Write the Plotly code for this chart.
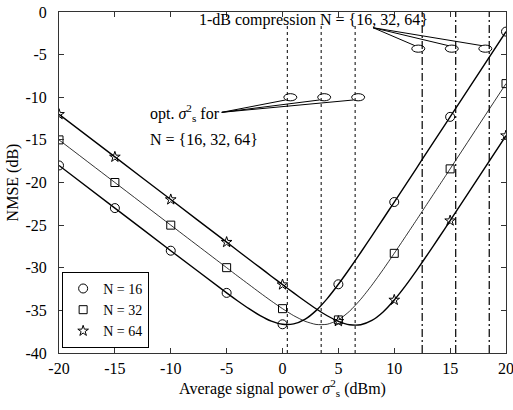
import plotly.graph_objects as go

# ---- data ----
x_markers = [-20, -15, -10, -5, 0, 5, 10, 15, 20]
nmse16_markers = [-18.0, -23.0, -28.0, -32.95, -36.63, -31.94, -22.29, -12.3, -2.3]
nmse32_markers = [-15.0, -20.0, -25.0, -29.99, -34.80, -36.12, -28.31, -18.4, -8.4]
nmse64_markers = [-12.0, -17.0, -22.0, -27.0, -31.98, -36.28, -33.78, -24.48, -14.5]

x_curve = [-20, -15, -10, -5, -4, -3, -2, -1, 0, 1, 2, 3, 4, 5, 6, 7, 8, 9, 10,
           11, 12, 13, 14, 15, 20]
nmse16_curve = [-18.0, -23.0, -28.0, -32.95, -33.90, -34.80, -35.61, -36.26, -36.63,
                -36.59, -36.06, -35.03, -33.62, -31.94, -30.12, -28.21, -26.25, -24.28,
                -22.29, -20.3, -18.3, -16.3, -14.3, -12.3, -2.3]
nmse32_curve = [-15.0, -20.0, -25.0, -29.99, -30.99, -31.97, -32.95, -33.90, -34.80,
                -35.62, -36.27, -36.65, -36.63, -36.12, -35.10, -33.70, -32.04, -30.22,
                -28.31, -26.35, -24.38, -22.39, -20.4, -18.4, -8.4]
nmse64_curve = [-12.0, -17.0, -22.0, -27.0, -28.0, -29.0, -29.99, -30.99, -31.98,
                -32.95, -33.90, -34.81, -35.63, -36.28, -36.68, -36.68, -36.18, -35.18,
                -33.78, -32.13, -30.31, -28.40, -26.45, -24.48, -14.5]

series_names = ["N = 16", "N = 32", "N = 64"]
opt_power = [0.43, 3.46, 6.5]          # optimal sigma_s^2 (dBm)
comp_power = [12.5, 15.5, 18.5]        # 1-dB compression points (dBm)

x_ticks = [-20, -15, -10, -5, 0, 5, 10, 15, 20]
y_ticks = [0, -5, -10, -15, -20, -25, -30, -35, -40]

FONT = "Liberation Serif, Times New Roman, serif"
fig = go.Figure()

curves = [nmse16_curve, nmse32_curve, nmse64_curve]
marks = [nmse16_markers, nmse32_markers, nmse64_markers]
widths = [1.4, 0.8, 1.4]
symbols = ["circle-open", "square-open", "star-open"]
sizes = [9, 8, 8]

for c, w in zip(curves, widths):
    fig.add_trace(go.Scatter(x=x_curve, y=c, mode="lines",
                             line=dict(color="black", width=w, shape="spline", smoothing=0.6),
                             showlegend=False, hoverinfo="skip"))
for m, name, sym, sz in zip(marks, series_names, symbols, sizes):
    fig.add_trace(go.Scatter(x=x_markers, y=m, mode="markers", name=name,
                             marker=dict(symbol=sym, size=sz, color="black",
                                         line=dict(width=1, color="black"))))

shapes = []
for p in opt_power:
    shapes.append(dict(type="line", xref="x", yref="y", x0=p, x1=p, y0=-40, y1=-1.6,
                       line=dict(color="black", width=1, dash="dot")))
for p in comp_power:
    shapes.append(dict(type="line", xref="x", yref="y", x0=p, x1=p, y0=-40, y1=0,
                       line=dict(color="black", width=1.2, dash="8px,3px,2px,3px")))

# ellipses + leader lines: optimum
opt_apex = (-5.44, -11.77)
for p in opt_power:
    cx, cy = p + 0.27, -10.0
    shapes.append(dict(type="circle", xref="x", yref="y", x0=cx - 0.58, x1=cx + 0.58,
                       y0=cy - 0.42, y1=cy + 0.42, line=dict(color="black", width=1)))
    shapes.append(dict(type="line", xref="x", yref="y", x0=opt_apex[0], y0=opt_apex[1],
                       x1=cx - 0.42, y1=cy - 0.32, line=dict(color="black", width=1)))
# ellipses + leader lines: compression
comp_apex = (8.1, -1.84)
for p in comp_power:
    cx, cy = p - 0.35, -4.3
    shapes.append(dict(type="circle", xref="x", yref="y", x0=cx - 0.58, x1=cx + 0.58,
                       y0=cy - 0.42, y1=cy + 0.42, line=dict(color="black", width=1)))
    shapes.append(dict(type="line", xref="x", yref="y", x0=comp_apex[0], y0=comp_apex[1],
                       x1=cx - 0.3, y1=cy + 0.35, line=dict(color="black", width=1)))

tf = dict(family=FONT, size=16, color="black")
annotations = [
    dict(x=-7.65, y=-0.94, xref="x", yref="y", xanchor="left", yanchor="middle", showarrow=False,
         text="1-dB compression N = {16, 32, 64}", font=tf),
    dict(x=-12.05, y=-11.8, xref="x", yref="y", xanchor="left", yanchor="middle", showarrow=False,
         text="opt. <i>σ</i><sup>2</sup><sub>s</sub> for", font=tf),
    dict(x=-12.05, y=-14.9, xref="x", yref="y", xanchor="left", yanchor="middle", showarrow=False,
         text="N = {16, 32, 64}", font=tf),
]

axis_common = dict(showline=True, linecolor="#333", linewidth=1, mirror="ticks", ticks="inside",
                   ticklen=5, tickcolor="#333", showgrid=False, zeroline=False, automargin=False,
                   tickfont=tf, ticklabeloverflow="allow")

fig.update_layout(
    width=513, height=410,
    margin=dict(l=59, r=7, t=12, b=57),
    plot_bgcolor="white", paper_bgcolor="white",
    xaxis=dict(range=[-20, 20], tickvals=x_ticks, ticktext=[str(t) for t in x_ticks],
               ticklabelstandoff=1,
               title=dict(text="Average signal power <i>σ</i><sup>2</sup><sub>s</sub> (dBm)",
                          font=tf, standoff=6),
               **axis_common),
    yaxis=dict(range=[-40, 0], tickvals=y_ticks, ticktext=[str(t) for t in y_ticks],
               ticklabelstandoff=8,
               title=dict(text="NMSE (dB)", font=tf, standoff=2),
               **axis_common),
    legend=dict(x=0.007, y=0.015, xanchor="left", yanchor="bottom", bordercolor="black",
                borderwidth=1, bgcolor="white", font=dict(family=FONT, size=14, color="black"),
                itemwidth=30, tracegroupgap=0),
    shapes=shapes, annotations=annotations, showlegend=True,
)

fig.write_html("out.html", config={"displayModeBar": False},
               post_script="document.body.style.margin='0';document.body.style.padding='0';")
